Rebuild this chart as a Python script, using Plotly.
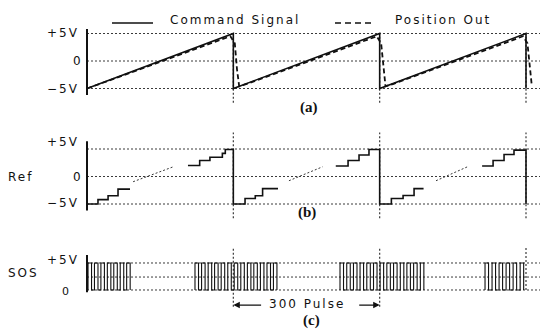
import plotly.graph_objects as go

W, H = 542, 329

# ---------------- data ----------------
grid_levels = [5, 0, -5]
marker_times = [1, 2, 3]

# (a) command signal (sawtooth) and position output
command_t = [0, 1, 1, 2, 2, 3, 3]
command_v = [-5, 5, -5, 5, -5, 5, -5]

position_t = [0, 0.5, 0.98, 1.01, 1.025, 1.04, 1.1, 1.5, 1.98, 2.01, 2.025, 2.04, 2.1,
              2.5, 2.98, 3.01, 3.025, 3.04]
position_v = [-5, -0.2, 4.5, 3.2, -1.5, -4.6, -4.1, -0.2, 4.5, 3.2, -1.5, -4.6, -4.1,
              -0.2, 4.5, 3.2, -1.5, -4.6]

# (b) reference staircase (held steps) and the interpolated middle part
ref_step_t = [0, 0.075, 0.144, 0.212, 0.294, None,
              0.69, 0.77, 0.84, 0.925, 0.945, 1.0, 1.0, 1.08, 1.15, 1.20, 1.305, None,
              1.70, 1.784, 1.859, 1.927, 2.0, 2.0, 2.08, 2.16, 2.235, 2.30, None,
              2.70, 2.775, 2.85, 2.918, 3.0, 3.0]
ref_step_v = [-5, -4.2, -3.5, -2.3, -2.3, None,
              2.0, 2.9, 3.5, 4.2, 4.9, 4.9, -5, -4.0, -3.5, -2.2, -2.2, None,
              1.9, 2.9, 3.9, 4.9, 4.9, -5, -4.0, -3.45, -2.2, -2.2, None,
              1.9, 2.9, 4.0, 4.8, 4.8, -5]
ref_ramp_t = [0.315, 0.59, None, 1.38, 1.61, None, 2.385, 2.60]
ref_ramp_v = [-0.95, 1.77, None, -0.77, 1.77, None, -0.77, 1.77]

# (c) SOS pulse bursts: rising-edge times of each pulse
sos_rises = [
    [0.007, 0.051, 0.095, 0.139, 0.183, 0.227, 0.271],
    [0.738, 0.783, 0.828, 0.872, 0.917, 0.962, 1.006, 1.051, 1.096, 1.140, 1.185, 1.230, 1.274],
    [1.729, 1.775, 1.821, 1.866, 1.912, 1.958, 2.003, 2.049, 2.095, 2.141, 2.186, 2.232, 2.278],
    [2.720, 2.768, 2.816, 2.864, 2.912, 2.960],
]
pulse_width = 0.024
sos_high, sos_low, sos_mid = 5, 0, 2.4
pulse_span = [1.0, 2.0]
pulse_label = "300 Pulse"

# ---------------- layout helpers ----------------
PX0, PX_PER_T = 87.0, (526.0 - 87.0) / 3.0
x_range = [-PX0 / PX_PER_T, (W - PX0) / PX_PER_T]


def px_to_t(px):
    return (px - PX0) / PX_PER_T


def panel(zero_py, px_per_v, lo, hi):
    top = zero_py - px_per_v * hi
    bot = zero_py - px_per_v * lo
    return dict(domain=[1 - bot / H, 1 - top / H], range=[lo, hi])


pa = panel(61.0, 5.5, -9, 8)
pb = panel(176.5, 5.5, -9, 8.5)
pc = panel(290.0, 5.4, -5, 9)

fig = go.Figure()
BLACK = "#111111"
GRID = "#3a3a3a"
grid_end = px_to_t(540)


def line(x, y, ax, color=BLACK, width=1.5, dash="solid", shape="linear"):
    xa, ya = ax
    fig.add_trace(go.Scatter(x=x, y=y, xaxis=xa, yaxis=ya, mode="lines",
                             line=dict(color=color, width=width, dash=dash, shape=shape),
                             hoverinfo="skip", showlegend=False, connectgaps=False))


AX = {"a": ("x", "y"), "b": ("x2", "y2"), "c": ("x3", "y3")}

# grid lines
for key in ("a", "b"):
    for lv in grid_levels:
        line([0, grid_end], [lv, lv], AX[key], color=GRID, width=1, dash="2px,2px")
for lv in (sos_high, sos_mid, sos_low):
    line([0, grid_end], [lv, lv], AX["c"], color=GRID, width=1, dash="2px,2px")

# vertical period markers
for t in marker_times:
    line([t, t], [-7.6, 5], AX["a"], color=GRID, width=1.2, dash="2px,2px")
    line([t, t], [-7.6, 8], AX["b"], color=GRID, width=1.2, dash="2px,2px")
    line([t, t], [-3.1 if t < 3 else 0, 8], AX["c"], color=GRID, width=1.2, dash="2px,2px")

# axis lines
line([0, 0], [-6.2, 5.8], AX["a"], width=2)
line([0, 0], [-6.2, 6.4], AX["b"], width=2)
line([0, 0], [-0.4, 6.5], AX["c"], width=2)

# (a)
line(command_t, command_v, AX["a"], width=1.6)
line(position_t, position_v, AX["a"], width=1.8, dash="5px,3px")

# (b)
line(ref_ramp_t, ref_ramp_v, AX["b"], color=GRID, width=1, dash="2px,2px")
line(ref_step_t, ref_step_v, AX["b"], width=1.6, shape="hv")

# (c)
sx, sy = [], []
for burst in sos_rises:
    sx.append(burst[0]); sy.append(sos_low)
    for r in burst:
        sx += [r, r + pulse_width]
        sy += [sos_high, sos_low]
    sx.append(None); sy.append(None)
line(sx, sy, AX["c"], width=1.1, shape="hv")

layout = dict(
    width=W, height=H, margin=dict(l=0, r=0, t=0, b=0),
    paper_bgcolor="white", plot_bgcolor="white", showlegend=False,
)
for i, (p, s) in enumerate(((pa, ""), (pb, "2"), (pc, "3"))):
    layout["xaxis" + s] = dict(domain=[0, 1], range=x_range, visible=False,
                               anchor="y" + s, fixedrange=True)
    layout["yaxis" + s] = dict(domain=p["domain"], range=p["range"], visible=False,
                               anchor="x" + s, fixedrange=True)
fig.update_layout(**layout)

SANS = "DejaVu Sans"


def sp(txt, ls=2):
    return '<span style="letter-spacing:%spx">%s</span>' % (ls, txt)


def label(txt, x, y, xa, ya, xanchor="right", size=12, family=SANS, ls=2):
    fig.add_annotation(text=sp(txt, ls), x=x, y=y, xref=xa, yref=ya, xanchor=xanchor,
                       yanchor="middle", showarrow=False, borderpad=0,
                       font=dict(family=family, size=size, color=BLACK))


# axis labels
xr = px_to_t(80)
label("+5V", xr, 5, "x", "y")
label("0", px_to_t(82), 0, "x", "y", ls=0)
label("\u22125V", xr, -5, "x", "y")

label("+5V", xr, 6.3, "x2", "y2")
label("Ref", px_to_t(7), 0, "x2", "y2", xanchor="left")
label("0", px_to_t(82), 0, "x2", "y2", ls=0)
label("\u22125V", xr, -4.8, "x2", "y2")

label("+5V", xr, 5.6, "x3", "y3")
label("SOS", px_to_t(7), 3.1, "x3", "y3", xanchor="left")
label("0", px_to_t(70), -0.2, "x3", "y3", size=11, ls=0)

# pulse count annotation
label(pulse_label, (pulse_span[0] + pulse_span[1]) / 2, -2.5, "x3", "y3", xanchor="center")
for head, tail in ((pulse_span[0], pulse_span[0] + 0.2), (pulse_span[1], pulse_span[1] - 0.15)):
    fig.add_annotation(x=head, y=-2.8, ax=tail, ay=-2.8, xref="x3", yref="y3",
                       axref="x3", ayref="y3", text="", showarrow=True,
                       arrowhead=2, arrowsize=1, arrowwidth=1.3, arrowcolor=BLACK)

# legend
fig.add_shape(type="line", xref="paper", yref="paper", x0=112 / W, x1=153 / W,
              y0=1 - 23 / H, y1=1 - 23 / H, line=dict(color=BLACK, width=1.3))
fig.add_shape(type="line", xref="paper", yref="paper", x0=335 / W, x1=375 / W,
              y0=1 - 23 / H, y1=1 - 23 / H, line=dict(color=BLACK, width=1.5, dash="6px,4px"))
for txt, px in (("Command Signal", 168), ("Position Out", 393)):
    fig.add_annotation(text=sp(txt), x=px / W, y=1 - 20 / H, xref="paper", yref="paper",
                       xanchor="left", yanchor="middle", showarrow=False,
                       font=dict(family=SANS, size=12, color=BLACK))

# sub-figure captions
for txt, px, py in (("(a)", 309, 107), ("(b)", 307, 213), ("(c)", 311, 320)):
    fig.add_annotation(text="<b>%s</b>" % txt, x=px / W, y=1 - py / H, xref="paper",
                       yref="paper", xanchor="center", yanchor="middle", showarrow=False,
                       borderpad=0,
                       font=dict(family="Liberation Serif", size=15, color=BLACK))

fig.write_html("out.html",
               config={"displayModeBar": False, "staticPlot": True},
               post_script="document.body.style.margin='0';"
                           "document.body.style.overflow='hidden';")
